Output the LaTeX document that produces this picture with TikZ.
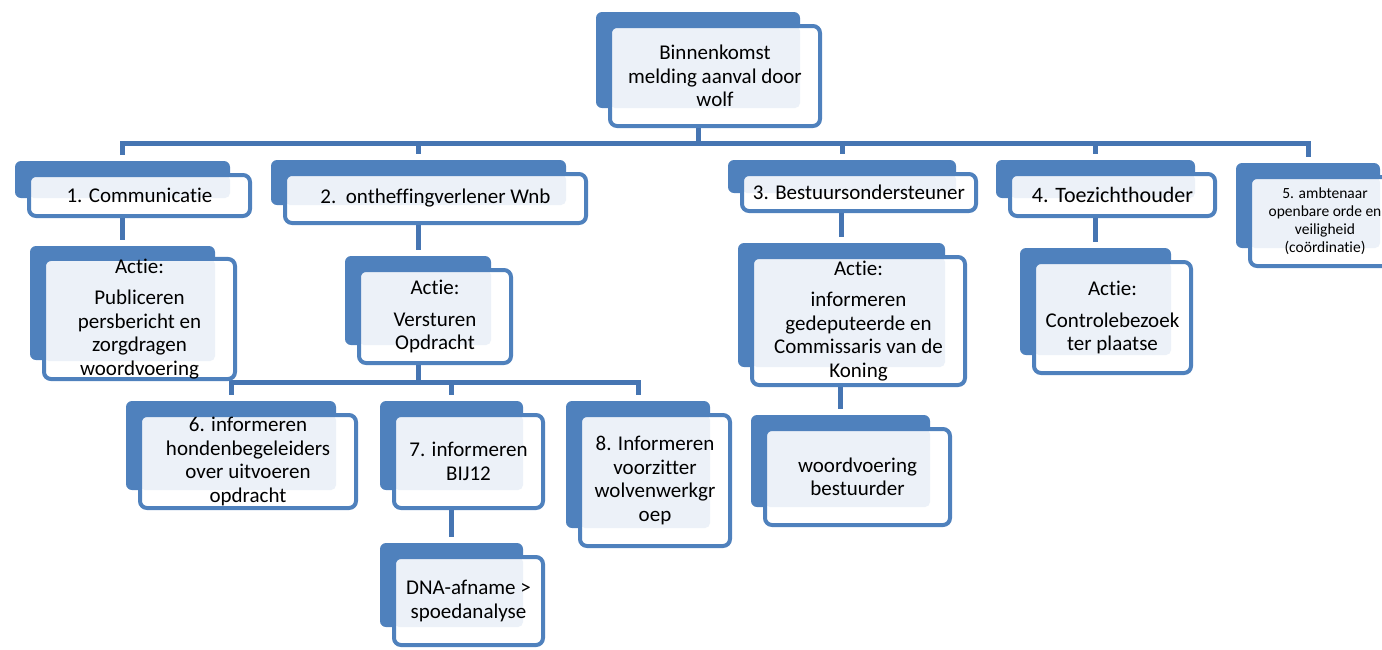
\documentclass[tikz,border=0pt]{standalone}
\usepackage{fontspec}
\setmainfont{Carlito}[Ligatures={NoCommon}]
\pgfdeclarelayer{bg}
\pgfsetlayers{bg,main}
\definecolor{boxblue}{HTML}{4F81BD}
\definecolor{connblue}{HTML}{4675B2}
\definecolor{lightfill}{HTML}{ECF1F8}
\tikzset{
  backbox/.style={fill=boxblue, rounded corners=6, inner sep=0pt, outer sep=0pt},
  frontbox/.style={draw=boxblue, line width=4pt, fill=white, rounded corners=7,
    inner sep=0pt, align=center, text=black, font=\fontsize{21}{23.5}\selectfont,
    path picture={\fill[lightfill, rounded corners=5] (path picture bounding box.north west)
      rectangle ([xshift=-20pt,yshift=18pt]path picture bounding box.south east);}},
  conn/.style={draw=connblue, line width=5pt, shorten >=6pt}
}
% #1 extra options, #2 name, #3 x1, #4 y1, #5 x2, #6 y2, #7 text
\newcommand\mkbox[7][]{%
  \node[backbox, minimum width={#5-#3-10}, minimum height={#6-#4-8}] (#2b)
    at ({(#3+#5)/2-17},{(#4+#6)/2-16}) {};
  \node[frontbox, minimum width={#5-#3-4}, minimum height={#6-#4-4}, #1] (#2)
    at ({(#3+#5)/2},{(#4+#6)/2}) {#7};
}
\begin{document}
\begin{tikzpicture}[x=1pt,y=-1pt]
\useasboundingbox (0,0) rectangle (1382,649);
\clip (0,0) rectangle (1382,649);

\mkbox{top}{608}{24}{822}{128}{Binnenkomst\\melding aanval door\\wolf}
\mkbox{b1}{27}{173}{252}{218}{1. Communicatie}
\mkbox{a1}{42}{258}{237}{380}{Actie:\\[8pt]Publiceren\\persbericht en\\zorgdragen\\woordvoering}
\mkbox{b2}{283}{172}{588}{225}{2.\ \ ontheffingverlener Wnb}
\mkbox{a2}{357}{268}{513}{365}{Actie:\\[8pt]Versturen\\Opdracht}
\mkbox{b3}{740}{172}{978}{213}{3. Bestuursondersteuner}
\mkbox{a3}{750}{255}{967}{387}{Actie:\\[8pt]informeren\\gedeputeerde en\\Commissaris van de\\Koning}
\mkbox{w3}{763}{427}{952}{527}{woordvoering\\bestuurder}
\mkbox[font=\fontsize{22}{25}\selectfont]{b4}{1008}{172}{1217}{218}{4. Toezichthouder}
\mkbox{a4}{1032}{260}{1193}{375}{Actie:\\[8pt]Controlebezoek\\ter plaatse}
\mkbox[font=\fontsize{15.5}{18}\selectfont]{b5}{1248}{175}{1402}{268}{5. ambtenaar\\openbare orde en\\veiligheid\\(coördinatie)}
\mkbox{b6}{138}{413}{358}{510}{6. informeren\\hondenbegeleiders\\over uitvoeren\\opdracht}
\mkbox{b7}{392}{413}{545}{510}{7. informeren\\BIJ12}
\mkbox{b8}{578}{413}{732}{548}{8. Informeren\\voorzitter\\wolvenwerkgr\\oep}
\mkbox{dna}{392}{555}{545}{647}{DNA-afname >\\spoedanalyse}

\begin{pgfonlayer}{bg}
  \coordinate (busA) at (698,143);
  \foreach \c in {b1b,b2b,b3b,b4b,b5b}
    \draw[conn] (topb.south) -- (busA) -| (\c.north);
  \coordinate (busB) at (418,382);
  \foreach \c in {b6b,b7b,b8b}
    \draw[conn] (a2b.south) -- (busB) -| (\c.north);
  \draw[conn] (b1b.south) -| (a1b.north);
  \draw[conn] (b2b.south) -| (a2b.north);
  \draw[conn] (b3b.south) -| (a3b.north);
  \draw[conn] (a3b.south) -| (w3b.north);
  \draw[conn] (b4b.south) -| (a4b.north);
  \draw[conn] (b7b.south) -| (dnab.north);
\end{pgfonlayer}
\end{tikzpicture}
\end{document}
